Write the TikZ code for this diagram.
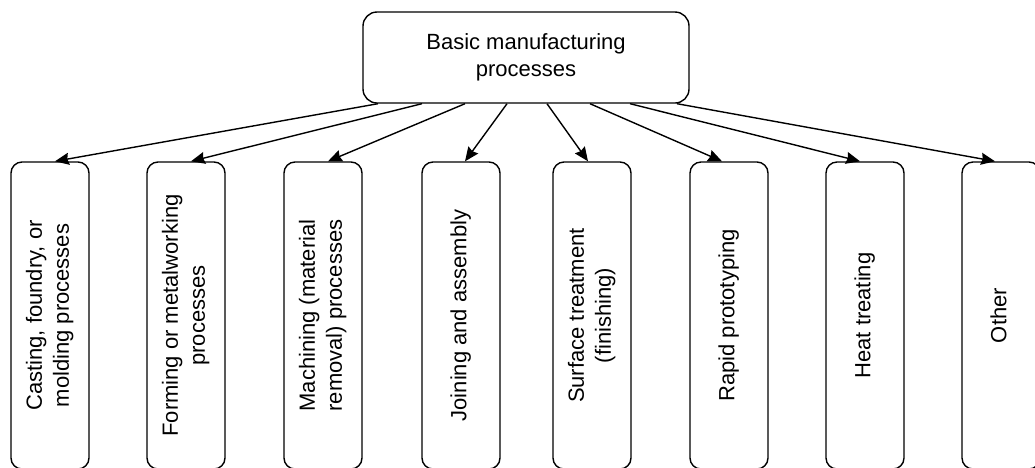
\documentclass[tikz,border=0pt]{standalone}
\usepackage{fontspec}
\setmainfont{Liberation Sans}
\usetikzlibrary{arrows.meta}
\newcommand{\vlabel}[1]{\rotatebox{90}{\begin{tabular}{@{}c@{}}#1\end{tabular}}}
\begin{document}
\begin{tikzpicture}[x=1pt,y=-1pt,
  box/.style={draw, line width=1.4pt, inner sep=0pt, align=center,
    font=\fontsize{22}{27}\selectfont},
  topbox/.style={box, rounded corners=14pt, minimum width=326pt, minimum height=91pt},
  proc/.style={box, rounded corners=11pt, minimum width=78pt, minimum height=307pt},
  link/.style={line width=1.4pt, -{Stealth[length=14pt,width=12pt,inset=1.5pt]}}]
\clip (0,0) rectangle (1035,467);

% root
\node[topbox] (top) at (526,57.5) {Basic manufacturing\\processes};

% process categories
\node[proc] (b1) at (50,315.5)   {\vlabel{Casting, foundry, or\\molding processes}};
\node[proc] (b2) at (186,315.5)  {\vlabel{Forming or metalworking\\processes}};
\node[proc] (b3) at (323,315.5)  {\vlabel{Machining (material\\removal) processes}};
\node[proc] (b4) at (461,315.5)  {\vlabel{Joining and assembly}};
\node[proc] (b5) at (592,315.5)  {\vlabel{Surface treatment\\(finishing)}};
\node[proc] (b6) at (729,315.5)  {\vlabel{Rapid prototyping}};
\node[proc] (b7) at (865,315.5)  {\vlabel{Heat treating}};
\node[proc] (b8) at (1001,315.5) {\vlabel{Other}};

% connectors
\draw[link] ([xshift=-148pt]top.south) -- ([xshift=5pt]b1.north);
\draw[link] ([xshift=-104pt]top.south) -- ([xshift=5pt]b2.north);
\draw[link] ([xshift=-61pt]top.south)  -- ([xshift=5pt]b3.north);
\draw[link] ([xshift=-19pt]top.south)  -- ([xshift=4pt]b4.north);
\draw[link] ([xshift=21pt]top.south)   -- ([xshift=-4pt]b5.north);
\draw[link] ([xshift=64pt]top.south)   -- ([xshift=-7pt]b6.north);
\draw[link] ([xshift=104pt]top.south)  -- ([xshift=-5pt]b7.north);
\draw[link] ([xshift=151pt]top.south)  -- ([xshift=-6pt]b8.north);
\end{tikzpicture}
\end{document}
